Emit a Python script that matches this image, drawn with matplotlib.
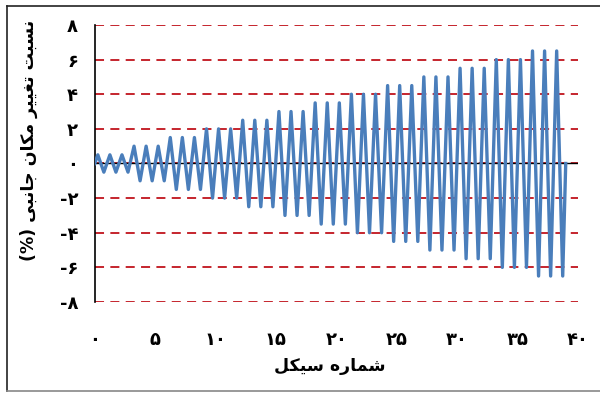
import matplotlib.pyplot as plt
from matplotlib.lines import Line2D

# peak drift ratio (%) of each loading cycle, three cycles per level
peak_drift = [0.5, 0.5, 0.5, 1.0, 1.0, 1.0, 1.5, 1.5, 1.5, 2.0, 2.0, 2.0,
              2.5, 2.5, 2.5, 3.0, 3.0, 3.0, 3.5, 3.5, 3.5, 4.0, 4.0, 4.0,
              4.5, 4.5, 4.5, 5.0, 5.0, 5.0, 5.5, 5.5, 5.5, 6.0, 6.0, 6.0,
              6.5, 6.5, 6.5]

x_ticks = [0, 5, 10, 15, 20, 25, 30, 35, 40]
y_ticks = [-8, -6, -4, -2, 0, 2, 4, 6, 8]

fa_digits = "۰۱۲۳۴۵۶۷۸۹"


def fa_num(v):
    s = str(abs(v)).translate(str.maketrans("0123456789", fa_digits))
    return "-" + s if v < 0 else s


# Persian labels written in shaped (presentation) forms, visual order
x_title = "\uFEDE\uFEDC\uFEF4\uFEB3 \uFEE9\uFEAD\uFE8E\uFEE4\uFEB7"
y_title = ("(%) "
           "\uFEF0\uFE92\uFEE7\uFE8E\uFE9F "
           "\uFEE5\uFE8E\uFEDC\uFEE3 "
           "\uFEAE\uFEF4\uFEF4\uFED0\uFE97 "
           "\uFE96\uFE92\uFEB4\uFEE7")

# build the zigzag: peak at quarter cycle, trough at three quarters
xs = [0.0]
ys = [0.0]
for i, a in enumerate(peak_drift):
    xs += [i + 0.25, i + 0.75]
    ys += [a, -a]
xs.append(len(peak_drift))
ys.append(0.0)

plt.rcParams['font.family'] = ['DejaVu Sans']

fig = plt.figure(figsize=(6, 3.93), dpi=100)
ax = fig.add_axes([0.158, 0.2316, 0.805, 0.7048])

for yv in y_ticks:
    ax.axhline(yv, color='#c0141c', lw=1.3, ls=(0, (5, 3.5)), zorder=1)
ax.axhline(0, color='black', lw=1.0, zorder=2)

ax.plot(xs, ys, color='#4a7ebb', lw=2.4, solid_joinstyle='round', zorder=3)

ax.set_xlim(0, 40)
ax.set_ylim(-8, 8)
ax.set_xticks(x_ticks)
ax.set_yticks(y_ticks)
ax.set_xticklabels([fa_num(v) for v in x_ticks], fontsize=13, fontweight='bold')
ax.set_yticklabels([fa_num(v) for v in y_ticks], fontsize=13, fontweight='bold')
ax.tick_params(axis='both', length=0)
ax.tick_params(axis='x', pad=21)
ax.tick_params(axis='y', pad=12)

for s in ['top', 'right', 'bottom']:
    ax.spines[s].set_visible(False)
ax.spines['left'].set_linewidth(1.2)

fig.text(330 / 600, 1 - 366 / 393, x_title, ha='center', va='center',
         fontsize=12.5, fontweight='bold')
fig.text(29 / 600, 1 - 140 / 393, y_title, ha='center', va='center',
         rotation=90, fontsize=12.5, fontweight='bold')

# outer frame
fig.add_artist(Line2D([7 / 600, 7 / 600], [1 - 6 / 393, 1 - 391 / 393],
                      transform=fig.transFigure, color='#222222', lw=1.2))
fig.add_artist(Line2D([7 / 600, 1], [1 - 6 / 393, 1 - 6 / 393],
                      transform=fig.transFigure, color='#222222', lw=1.2))
fig.add_artist(Line2D([7 / 600, 1], [1 - 391 / 393, 1 - 391 / 393],
                      transform=fig.transFigure, color='#888888', lw=1.2))

fig.savefig("out.png", dpi=100)
